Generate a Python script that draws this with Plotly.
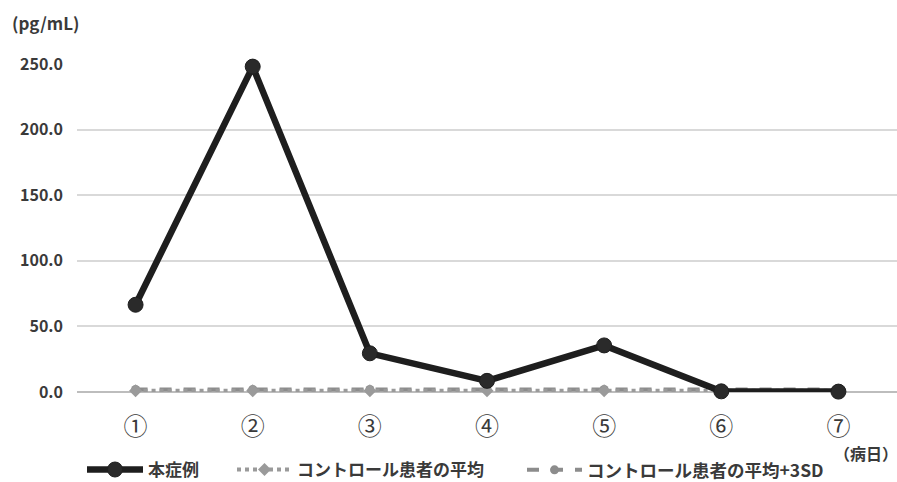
import plotly.graph_objects as go

days = ["①", "②", "③", "④", "⑤", "⑥", "⑦"]
case_vals = [66.5, 248.0, 29.5, 8.5, 35.5, 0.5, 0.3]
ctrl_mean = [1.0, 1.0, 1.0, 1.0, 1.0, 1.0, 1.0]
ctrl_3sd = [2.0, 2.0, 2.0, 2.0, 2.0, 2.0, 2.0]
y_ticks = [0, 50, 100, 150, 200, 250]
y_tick_text = ["0.0", "50.0", "100.0", "150.0", "200.0", "250.0"]

FONT = "Noto Sans CJK JP, Noto Sans, sans-serif"
TXT = "#3a3a3a"

fig = go.Figure()
fig.add_trace(go.Scatter(
    x=days, y=ctrl_3sd, name="コントロール患者の平均+3SD", mode="lines+markers",
    line=dict(color="#8c8c8c", width=4, dash="dash"),
    marker=dict(symbol="circle", size=9, color="#8c8c8c"),
    legend="legend3", cliponaxis=False))
fig.add_trace(go.Scatter(
    x=days, y=ctrl_mean, name="コントロール患者の平均", mode="lines+markers",
    line=dict(color="#9a9a9a", width=4, dash="dot"),
    marker=dict(symbol="diamond", size=10, color="#9a9a9a"),
    legend="legend2", cliponaxis=False))
fig.add_trace(go.Scatter(
    x=days, y=case_vals, name="本症例", mode="lines+markers",
    line=dict(color="#1e1e1e", width=6.5),
    marker=dict(symbol="circle", size=15, color="#2a2a2a", line=dict(color="#1e1e1e", width=1)),
    legend="legend", cliponaxis=False))

leg_common = dict(orientation="h", xref="container", yref="container",
                  xanchor="left", y=0.025, yanchor="middle",
                  bgcolor="rgba(0,0,0,0)", itemclick=False, itemdoubleclick=False)

fig.update_layout(
    width=897, height=482,
    margin=dict(l=77, r=0, t=64, b=90, autoexpand=False),
    paper_bgcolor="white", plot_bgcolor="white",
    font=dict(family=FONT, color=TXT, size=15, weight="bold"),
    showlegend=True,
    legend=dict(x=82 / 897, itemwidth=56, font=dict(size=17, color=TXT, weight="bold"), **leg_common),
    legend2=dict(x=232 / 897, itemwidth=55, font=dict(size=17, color=TXT, weight="bold"), **leg_common),
    legend3=dict(x=522 / 897, itemwidth=55, font=dict(size=17.5, color=TXT, weight="bold"), **leg_common),
    xaxis=dict(type="category", range=[-0.5, 6.5], showgrid=False, ticks="",
               showline=False, zeroline=False, ticklabelstandoff=18,
               tickfont=dict(size=24, color=TXT, weight="normal")),
    yaxis=dict(range=[0, 250], tickvals=y_ticks, ticktext=y_tick_text,
               showgrid=True, gridcolor="#d9d9d9", gridwidth=1.5,
               zeroline=True, zerolinecolor="#bdbdbd", zerolinewidth=1.5,
               ticks="", ticklabelstandoff=13,
               tickfont=dict(size=16, color=TXT, weight="bold")),
    annotations=[
        dict(text="(pg/mL)", xref="paper", yref="paper", x=-0.082, y=1.128,
             xanchor="left", yanchor="middle", showarrow=False,
             font=dict(size=17, color=TXT, weight="bold")),
        dict(text="（病日）", xref="paper", yref="paper", x=1.004, y=-0.186,
             xanchor="right", yanchor="middle", showarrow=False,
             font=dict(size=16, color=TXT, weight="bold")),
    ],
)

fig.write_html("out.html")
